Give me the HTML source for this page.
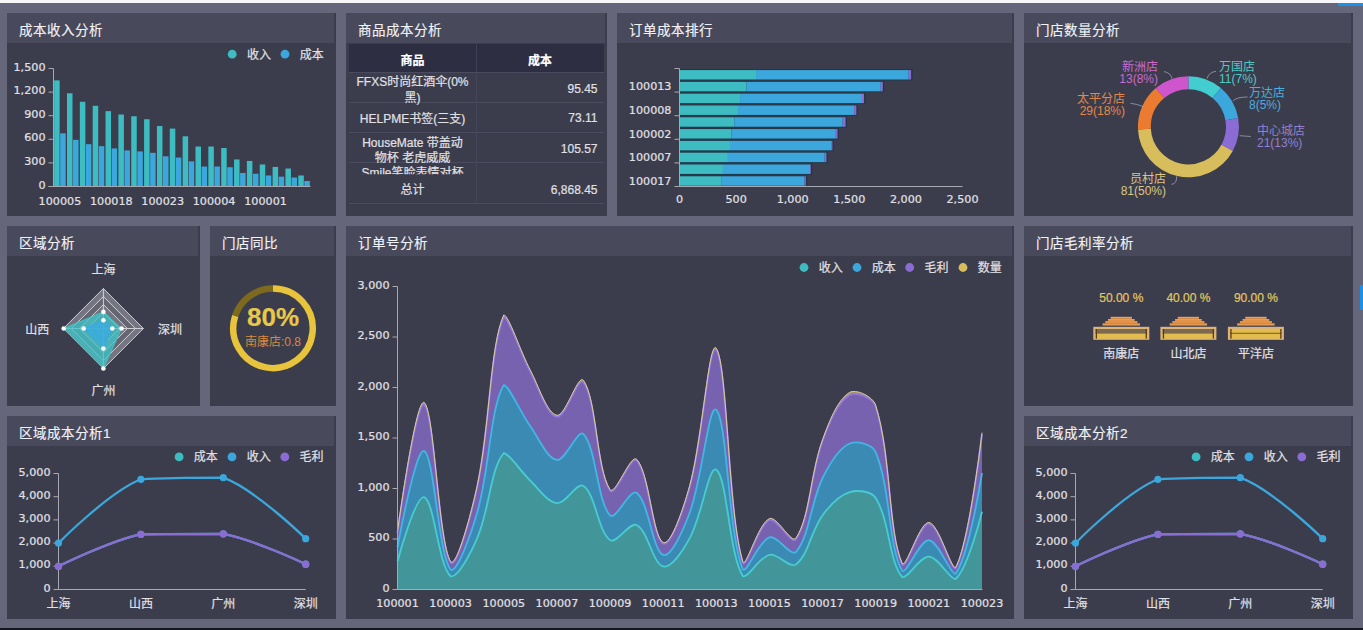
<!DOCTYPE html>
<html><head><meta charset="utf-8"><title>dashboard</title><style>
*{margin:0;padding:0;box-sizing:border-box}
html,body{width:1363px;height:630px;overflow:hidden;background:#65667a;font-family:'Liberation Sans','Noto Sans CJK SC',sans-serif}
.top{position:absolute;left:0;top:0;width:1363px;height:2.5px;background:#f8f8fa}
.bot{position:absolute;left:0;top:628px;width:1363px;height:2px;background:#15151f}
.p{position:absolute;background:#3c3d4c}
.h{height:30px;margin-right:2px;background:#484a5c;color:#f2f2f6;font-size:13.5px;letter-spacing:0.5px;-webkit-text-stroke:0.15px #f2f2f6;line-height:36px;padding-left:12px;white-space:nowrap}
svg{position:absolute;left:0;top:0}
svg text{font-family:'Liberation Sans','Noto Sans CJK SC',sans-serif;stroke:currentColor;stroke-width:0.2px;paint-order:stroke}
</style></head><body>
<div class="top"></div><div class="bot"></div>
<div class="p" style="left:7px;top:13px;width:329px;height:203px"><div class="h">成本收入分析</div></div><div class="p" style="left:346px;top:13px;width:261px;height:203px"><div class="h">商品成本分析</div></div><div class="p" style="left:617px;top:13px;width:397px;height:203px"><div class="h">订单成本排行</div></div><div class="p" style="left:1024px;top:13px;width:329px;height:203px"><div class="h">门店数量分析</div></div><div class="p" style="left:7px;top:226px;width:193px;height:180px"><div class="h">区域分析</div></div><div class="p" style="left:210px;top:226px;width:126px;height:180px"><div class="h">门店同比</div></div><div class="p" style="left:346px;top:226px;width:668px;height:393px"><div class="h">订单号分析</div></div><div class="p" style="left:1024px;top:226px;width:329px;height:180px"><div class="h">门店毛利率分析</div></div><div class="p" style="left:7px;top:416px;width:329px;height:203px"><div class="h">区域成本分析1</div></div><div class="p" style="left:1024px;top:416px;width:329px;height:203px"><div class="h">区域成本分析2</div></div>
<svg width="1363" height="630" viewBox="0 0 1363 630">
<rect x="54.14" y="80.38" width="5.51" height="106.12" fill="#3dbcc2" />
<rect x="60.2" y="133.32" width="5.51" height="53.18" fill="#3ba7dc" />
<rect x="66.99" y="93.28" width="5.51" height="93.22" fill="#3dbcc2" />
<rect x="73.05" y="139.85" width="5.51" height="46.65" fill="#3ba7dc" />
<rect x="79.84" y="101.78" width="5.51" height="84.72" fill="#3dbcc2" />
<rect x="85.9" y="144.18" width="5.51" height="42.32" fill="#3ba7dc" />
<rect x="92.69" y="105.79" width="5.51" height="80.71" fill="#3dbcc2" />
<rect x="98.75" y="146.14" width="5.51" height="40.36" fill="#3ba7dc" />
<rect x="105.54" y="111.14" width="5.51" height="75.36" fill="#3dbcc2" />
<rect x="111.6" y="148.43" width="5.51" height="38.07" fill="#3ba7dc" />
<rect x="118.39" y="114.52" width="5.51" height="71.98" fill="#3dbcc2" />
<rect x="124.45" y="150.39" width="5.51" height="36.11" fill="#3ba7dc" />
<rect x="131.24" y="116.25" width="5.51" height="70.25" fill="#3dbcc2" />
<rect x="137.3" y="151.41" width="5.51" height="35.09" fill="#3ba7dc" />
<rect x="144.09" y="119.24" width="5.51" height="67.26" fill="#3dbcc2" />
<rect x="150.15" y="152.83" width="5.51" height="33.67" fill="#3ba7dc" />
<rect x="156.94" y="126.01" width="5.51" height="60.49" fill="#3dbcc2" />
<rect x="163" y="156.29" width="5.51" height="30.21" fill="#3ba7dc" />
<rect x="169.79" y="128.6" width="5.51" height="57.9" fill="#3dbcc2" />
<rect x="175.85" y="157.55" width="5.51" height="28.95" fill="#3ba7dc" />
<rect x="182.64" y="136.31" width="5.51" height="50.19" fill="#3dbcc2" />
<rect x="188.7" y="161.41" width="5.51" height="25.09" fill="#3ba7dc" />
<rect x="195.49" y="146.54" width="5.51" height="39.96" fill="#3dbcc2" />
<rect x="201.55" y="166.52" width="5.51" height="19.98" fill="#3ba7dc" />
<rect x="208.34" y="146.54" width="5.51" height="39.96" fill="#3dbcc2" />
<rect x="214.4" y="166.52" width="5.51" height="19.98" fill="#3ba7dc" />
<rect x="221.19" y="148.03" width="5.51" height="38.47" fill="#3dbcc2" />
<rect x="227.25" y="167.23" width="5.51" height="19.27" fill="#3ba7dc" />
<rect x="234.04" y="159.44" width="5.51" height="27.06" fill="#3dbcc2" />
<rect x="240.1" y="172.97" width="5.51" height="13.53" fill="#3ba7dc" />
<rect x="246.89" y="160.93" width="5.51" height="25.57" fill="#3dbcc2" />
<rect x="252.95" y="173.76" width="5.51" height="12.74" fill="#3ba7dc" />
<rect x="259.74" y="164.47" width="5.51" height="22.03" fill="#3dbcc2" />
<rect x="265.8" y="175.49" width="5.51" height="11.01" fill="#3ba7dc" />
<rect x="272.59" y="166.91" width="5.51" height="19.59" fill="#3dbcc2" />
<rect x="278.65" y="176.67" width="5.51" height="9.83" fill="#3ba7dc" />
<rect x="285.44" y="168.56" width="5.51" height="17.94" fill="#3dbcc2" />
<rect x="291.5" y="177.53" width="5.51" height="8.97" fill="#3ba7dc" />
<rect x="298.29" y="175.49" width="5.51" height="11.01" fill="#3dbcc2" />
<rect x="304.35" y="180.99" width="5.51" height="5.51" fill="#3ba7dc" />
<line x1="53.5" y1="68.5" x2="53.5" y2="186.5" stroke="#a8a8b2" stroke-width="1"/>
<line x1="48.5" y1="186.5" x2="53.5" y2="186.5" stroke="#a8a8b2" stroke-width="1"/>
<text x="45.5" y="185" font-size="11.2" fill="#e0e0e6" color="#e0e0e6" text-anchor="end" dominant-baseline="central" font-weight="normal" style="font-family:'DejaVu Sans','Liberation Sans',sans-serif" >0</text>
<line x1="48.5" y1="162.9" x2="53.5" y2="162.9" stroke="#a8a8b2" stroke-width="1"/>
<text x="45.5" y="161.4" font-size="11.2" fill="#e0e0e6" color="#e0e0e6" text-anchor="end" dominant-baseline="central" font-weight="normal" style="font-family:'DejaVu Sans','Liberation Sans',sans-serif" >300</text>
<line x1="48.5" y1="139.3" x2="53.5" y2="139.3" stroke="#a8a8b2" stroke-width="1"/>
<text x="45.5" y="137.8" font-size="11.2" fill="#e0e0e6" color="#e0e0e6" text-anchor="end" dominant-baseline="central" font-weight="normal" style="font-family:'DejaVu Sans','Liberation Sans',sans-serif" >600</text>
<line x1="48.5" y1="115.7" x2="53.5" y2="115.7" stroke="#a8a8b2" stroke-width="1"/>
<text x="45.5" y="114.2" font-size="11.2" fill="#e0e0e6" color="#e0e0e6" text-anchor="end" dominant-baseline="central" font-weight="normal" style="font-family:'DejaVu Sans','Liberation Sans',sans-serif" >900</text>
<line x1="48.5" y1="92.1" x2="53.5" y2="92.1" stroke="#a8a8b2" stroke-width="1"/>
<text x="45.5" y="90.6" font-size="11.2" fill="#e0e0e6" color="#e0e0e6" text-anchor="end" dominant-baseline="central" font-weight="normal" style="font-family:'DejaVu Sans','Liberation Sans',sans-serif" >1,200</text>
<line x1="48.5" y1="68.5" x2="53.5" y2="68.5" stroke="#a8a8b2" stroke-width="1"/>
<text x="45.5" y="67" font-size="11.2" fill="#e0e0e6" color="#e0e0e6" text-anchor="end" dominant-baseline="central" font-weight="normal" style="font-family:'DejaVu Sans','Liberation Sans',sans-serif" >1,500</text>
<line x1="48.5" y1="186.5" x2="310.5" y2="186.5" stroke="#a8a8b2" stroke-width="1"/>
<text x="59.92" y="201.2" font-size="11.2" fill="#e0e0e6" color="#e0e0e6" text-anchor="middle" dominant-baseline="central" font-weight="normal" style="font-family:'DejaVu Sans','Liberation Sans',sans-serif" >100005</text>
<text x="111.32" y="201.2" font-size="11.2" fill="#e0e0e6" color="#e0e0e6" text-anchor="middle" dominant-baseline="central" font-weight="normal" style="font-family:'DejaVu Sans','Liberation Sans',sans-serif" >100018</text>
<text x="162.72" y="201.2" font-size="11.2" fill="#e0e0e6" color="#e0e0e6" text-anchor="middle" dominant-baseline="central" font-weight="normal" style="font-family:'DejaVu Sans','Liberation Sans',sans-serif" >100023</text>
<text x="214.12" y="201.2" font-size="11.2" fill="#e0e0e6" color="#e0e0e6" text-anchor="middle" dominant-baseline="central" font-weight="normal" style="font-family:'DejaVu Sans','Liberation Sans',sans-serif" >100004</text>
<text x="265.52" y="201.2" font-size="11.2" fill="#e0e0e6" color="#e0e0e6" text-anchor="middle" dominant-baseline="central" font-weight="normal" style="font-family:'DejaVu Sans','Liberation Sans',sans-serif" >100001</text>
<circle cx="232.2" cy="54.2" r="4.4" fill="#3dbcc2" />
<text x="246.9" y="54.7" font-size="12" fill="#e0e0e6" color="#e0e0e6" text-anchor="start" dominant-baseline="central" font-weight="normal" >收入</text>
<circle cx="285" cy="54.2" r="4.4" fill="#3ba7dc" />
<text x="299.7" y="54.7" font-size="12" fill="#e0e0e6" color="#e0e0e6" text-anchor="start" dominant-baseline="central" font-weight="normal" >成本</text>
<rect x="349" y="44" width="255" height="28" fill="#2d2e42" />
<line x1="476.5" y1="44" x2="476.5" y2="72" stroke="#3e3f55" stroke-width="1"/>
<line x1="349" y1="72.5" x2="604" y2="72.5" stroke="#4a4b5e" stroke-width="1"/>
<line x1="349" y1="102.5" x2="604" y2="102.5" stroke="#4a4b5e" stroke-width="1"/>
<line x1="349" y1="132.5" x2="604" y2="132.5" stroke="#4a4b5e" stroke-width="1"/>
<line x1="349" y1="162.5" x2="604" y2="162.5" stroke="#4a4b5e" stroke-width="1"/>
<line x1="349" y1="203.5" x2="604" y2="203.5" stroke="#4a4b5e" stroke-width="1"/>
<line x1="476.5" y1="72.5" x2="476.5" y2="203" stroke="#45465a" stroke-width="1"/>
<text x="412.5" y="60.5" font-size="12" fill="#ffffff" color="#ffffff" text-anchor="middle" dominant-baseline="central" font-weight="bold" >商品</text>
<text x="540" y="60.5" font-size="12" fill="#ffffff" color="#ffffff" text-anchor="middle" dominant-baseline="central" font-weight="bold" >成本</text>
<text x="412.5" y="82" font-size="12" fill="#e0e0e6" color="#e0e0e6" text-anchor="middle" dominant-baseline="central" font-weight="normal" >FFXS时尚红酒伞(0%</text>
<text x="412.5" y="97.9" font-size="12" fill="#e0e0e6" color="#e0e0e6" text-anchor="middle" dominant-baseline="central" font-weight="normal" >黑)</text>
<text x="597.5" y="88.7" font-size="12" fill="#e0e0e6" color="#e0e0e6" text-anchor="end" dominant-baseline="central" font-weight="normal" >95.45</text>
<text x="412.5" y="118.6" font-size="12" fill="#e0e0e6" color="#e0e0e6" text-anchor="middle" dominant-baseline="central" font-weight="normal" >HELPME书签(三支)</text>
<text x="597.5" y="118.4" font-size="12" fill="#e0e0e6" color="#e0e0e6" text-anchor="end" dominant-baseline="central" font-weight="normal" >73.11</text>
<text x="412.5" y="142.5" font-size="12" fill="#e0e0e6" color="#e0e0e6" text-anchor="middle" dominant-baseline="central" font-weight="normal" >HouseMate 带盖动</text>
<text x="412.5" y="157.6" font-size="12" fill="#e0e0e6" color="#e0e0e6" text-anchor="middle" dominant-baseline="central" font-weight="normal" >物杯 老虎威威</text>
<text x="597.5" y="148.9" font-size="12" fill="#e0e0e6" color="#e0e0e6" text-anchor="end" dominant-baseline="central" font-weight="normal" >105.57</text>
<clipPath id="rc"><rect x="349" y="163" width="255" height="11.3"/></clipPath>
<text x="412.5" y="173.3" font-size="12" fill="#e0e0e6" color="#e0e0e6" text-anchor="middle" dominant-baseline="central" font-weight="normal" clip-path="url(#rc)">Smile笑脸表情对杯</text>
<text x="412.5" y="190.2" font-size="12" fill="#e0e0e6" color="#e0e0e6" text-anchor="middle" dominant-baseline="central" font-weight="normal" >总计</text>
<text x="597.5" y="189.7" font-size="12" fill="#e0e0e6" color="#e0e0e6" text-anchor="end" dominant-baseline="central" font-weight="normal" >6,868.45</text>
<rect x="679" y="175.28" width="128.33" height="11.44" fill="#22384a" />
<rect x="679.5" y="176.28" width="41.66" height="9.44" fill="#3dbcc2" />
<rect x="721.16" y="176.28" width="83.32" height="9.44" fill="#3ba7dc" />
<rect x="804.47" y="176.28" width="1.36" height="9.44" fill="#8a6cd4" />
<rect x="679" y="163.48" width="133.31" height="11.44" fill="#22384a" />
<rect x="679.5" y="164.48" width="43.47" height="9.44" fill="#3dbcc2" />
<rect x="722.97" y="164.48" width="87.05" height="9.44" fill="#3ba7dc" />
<rect x="810.02" y="164.48" width="0.79" height="9.44" fill="#8a6cd4" />
<rect x="679" y="151.68" width="148.93" height="11.44" fill="#22384a" />
<rect x="679.5" y="152.68" width="48.45" height="9.44" fill="#3dbcc2" />
<rect x="727.95" y="152.68" width="96.79" height="9.44" fill="#3ba7dc" />
<rect x="824.74" y="152.68" width="1.7" height="9.44" fill="#8a6cd4" />
<rect x="679" y="139.88" width="154.93" height="11.44" fill="#22384a" />
<rect x="679.5" y="140.88" width="50.49" height="9.44" fill="#3dbcc2" />
<rect x="729.99" y="140.88" width="101.09" height="9.44" fill="#3ba7dc" />
<rect x="831.07" y="140.88" width="1.36" height="9.44" fill="#8a6cd4" />
<rect x="679" y="128.08" width="160.03" height="11.44" fill="#22384a" />
<rect x="679.5" y="129.08" width="51.96" height="9.44" fill="#3dbcc2" />
<rect x="731.46" y="129.08" width="103.58" height="9.44" fill="#3ba7dc" />
<rect x="835.04" y="129.08" width="2.49" height="9.44" fill="#8a6cd4" />
<rect x="679" y="116.28" width="168.06" height="11.44" fill="#22384a" />
<rect x="679.5" y="117.28" width="54.79" height="9.44" fill="#3dbcc2" />
<rect x="734.29" y="117.28" width="108.45" height="9.44" fill="#3ba7dc" />
<rect x="842.73" y="117.28" width="2.83" height="9.44" fill="#8a6cd4" />
<rect x="679" y="104.48" width="178.82" height="11.44" fill="#22384a" />
<rect x="679.5" y="105.48" width="58.52" height="9.44" fill="#3dbcc2" />
<rect x="738.02" y="105.48" width="116.14" height="9.44" fill="#3ba7dc" />
<rect x="854.17" y="105.48" width="2.15" height="9.44" fill="#8a6cd4" />
<rect x="679" y="92.68" width="186.52" height="11.44" fill="#22384a" />
<rect x="679.5" y="93.68" width="60.56" height="9.44" fill="#3dbcc2" />
<rect x="740.06" y="93.68" width="121.92" height="9.44" fill="#3ba7dc" />
<rect x="861.98" y="93.68" width="2.04" height="9.44" fill="#8a6cd4" />
<rect x="679" y="80.88" width="205.31" height="11.44" fill="#22384a" />
<rect x="679.5" y="81.88" width="67.13" height="9.44" fill="#3dbcc2" />
<rect x="746.63" y="81.88" width="134.14" height="9.44" fill="#3ba7dc" />
<rect x="880.77" y="81.88" width="2.04" height="9.44" fill="#8a6cd4" />
<rect x="679" y="69.08" width="233.61" height="11.44" fill="#22384a" />
<rect x="679.5" y="70.08" width="76.52" height="9.44" fill="#3dbcc2" />
<rect x="756.02" y="70.08" width="152.71" height="9.44" fill="#3ba7dc" />
<rect x="908.73" y="70.08" width="2.38" height="9.44" fill="#8a6cd4" />
<line x1="679.5" y1="68.5" x2="679.5" y2="186.5" stroke="#a8a8b2" stroke-width="1"/>
<line x1="674.5" y1="68.5" x2="679.5" y2="68.5" stroke="#a8a8b2" stroke-width="1"/>
<line x1="674.5" y1="92.1" x2="679.5" y2="92.1" stroke="#a8a8b2" stroke-width="1"/>
<line x1="674.5" y1="115.7" x2="679.5" y2="115.7" stroke="#a8a8b2" stroke-width="1"/>
<line x1="674.5" y1="139.3" x2="679.5" y2="139.3" stroke="#a8a8b2" stroke-width="1"/>
<line x1="674.5" y1="162.9" x2="679.5" y2="162.9" stroke="#a8a8b2" stroke-width="1"/>
<line x1="674.5" y1="186.5" x2="679.5" y2="186.5" stroke="#a8a8b2" stroke-width="1"/>
<text x="671.5" y="86.9" font-size="11.2" fill="#e0e0e6" color="#e0e0e6" text-anchor="end" dominant-baseline="central" font-weight="normal" style="font-family:'DejaVu Sans','Liberation Sans',sans-serif" >100013</text>
<text x="671.5" y="110.5" font-size="11.2" fill="#e0e0e6" color="#e0e0e6" text-anchor="end" dominant-baseline="central" font-weight="normal" style="font-family:'DejaVu Sans','Liberation Sans',sans-serif" >100008</text>
<text x="671.5" y="134.1" font-size="11.2" fill="#e0e0e6" color="#e0e0e6" text-anchor="end" dominant-baseline="central" font-weight="normal" style="font-family:'DejaVu Sans','Liberation Sans',sans-serif" >100002</text>
<text x="671.5" y="157.7" font-size="11.2" fill="#e0e0e6" color="#e0e0e6" text-anchor="end" dominant-baseline="central" font-weight="normal" style="font-family:'DejaVu Sans','Liberation Sans',sans-serif" >100007</text>
<text x="671.5" y="181.3" font-size="11.2" fill="#e0e0e6" color="#e0e0e6" text-anchor="end" dominant-baseline="central" font-weight="normal" style="font-family:'DejaVu Sans','Liberation Sans',sans-serif" >100017</text>
<line x1="679.5" y1="186.5" x2="962.5" y2="186.5" stroke="#a8a8b2" stroke-width="1"/>
<text x="679.5" y="199.1" font-size="11.2" fill="#e0e0e6" color="#e0e0e6" text-anchor="middle" dominant-baseline="central" font-weight="normal" style="font-family:'DejaVu Sans','Liberation Sans',sans-serif" >0</text>
<text x="736.1" y="199.1" font-size="11.2" fill="#e0e0e6" color="#e0e0e6" text-anchor="middle" dominant-baseline="central" font-weight="normal" style="font-family:'DejaVu Sans','Liberation Sans',sans-serif" >500</text>
<text x="792.7" y="199.1" font-size="11.2" fill="#e0e0e6" color="#e0e0e6" text-anchor="middle" dominant-baseline="central" font-weight="normal" style="font-family:'DejaVu Sans','Liberation Sans',sans-serif" >1,000</text>
<text x="849.3" y="199.1" font-size="11.2" fill="#e0e0e6" color="#e0e0e6" text-anchor="middle" dominant-baseline="central" font-weight="normal" style="font-family:'DejaVu Sans','Liberation Sans',sans-serif" >1,500</text>
<text x="905.9" y="199.1" font-size="11.2" fill="#e0e0e6" color="#e0e0e6" text-anchor="middle" dominant-baseline="central" font-weight="normal" style="font-family:'DejaVu Sans','Liberation Sans',sans-serif" >2,000</text>
<text x="962.5" y="199.1" font-size="11.2" fill="#e0e0e6" color="#e0e0e6" text-anchor="middle" dominant-baseline="central" font-weight="normal" style="font-family:'DejaVu Sans','Liberation Sans',sans-serif" >2,500</text>
<path d="M1188.4,76.3 A50.5,50.5 0 0 1 1220.86,88.11 L1212.57,98 A37.6,37.6 0 0 0 1188.4,89.2 Z" fill="#42cdd0"/>
<path d="M1220.86,88.11 A50.5,50.5 0 0 1 1238.13,118.03 L1225.43,120.27 A37.6,37.6 0 0 0 1212.57,98 Z" fill="#3ba7dc"/>
<path d="M1238.13,118.03 A50.5,50.5 0 0 1 1232.78,150.9 L1221.44,144.74 A37.6,37.6 0 0 0 1225.43,120.27 Z" fill="#8a6cd4"/>
<path d="M1232.78,150.9 A50.5,50.5 0 0 1 1137.97,129.53 L1150.86,128.83 A37.6,37.6 0 0 0 1221.44,144.74 Z" fill="#d8bd5c"/>
<path d="M1137.97,129.53 A50.5,50.5 0 0 1 1155.94,88.11 L1164.23,98 A37.6,37.6 0 0 0 1150.86,128.83 Z" fill="#ec7b32"/>
<path d="M1155.94,88.11 A50.5,50.5 0 0 1 1188.4,76.3 L1188.4,89.2 A37.6,37.6 0 0 0 1164.23,98 Z" fill="#cf55cc"/>
<path d="M1172,78.6 Q1171,73 1164,71.6" fill="none" stroke="rgba(200,200,215,0.55)" stroke-width="1"/>
<path d="M1143,106.5 Q1137,104 1130.5,103.3" fill="none" stroke="rgba(200,200,215,0.55)" stroke-width="1"/>
<path d="M1207,78.6 Q1209,72 1216,71.4" fill="none" stroke="rgba(200,200,215,0.55)" stroke-width="1"/>
<path d="M1233,100.8 Q1237,97 1247.6,97" fill="none" stroke="rgba(200,200,215,0.55)" stroke-width="1"/>
<path d="M1239.7,135.7 L1250.8,136.5" fill="none" stroke="rgba(200,200,215,0.55)" stroke-width="1"/>
<path d="M1176.7,176.2 Q1177,184 1171.4,184.3" fill="none" stroke="rgba(200,200,215,0.55)" stroke-width="1"/>
<text x="1158" y="67" font-size="12" fill="#cc6acc" color="#cc6acc" text-anchor="end" dominant-baseline="central" font-weight="normal" style="stroke:none" >新洲店</text>
<text x="1158" y="78.8" font-size="12" fill="#cc6acc" color="#cc6acc" text-anchor="end" dominant-baseline="central" font-weight="normal" style="stroke:none" >13(8%)</text>
<text x="1125" y="98.6" font-size="12" fill="#e2884a" color="#e2884a" text-anchor="end" dominant-baseline="central" font-weight="normal" style="stroke:none" >太平分店</text>
<text x="1125" y="111" font-size="12" fill="#e2884a" color="#e2884a" text-anchor="end" dominant-baseline="central" font-weight="normal" style="stroke:none" >29(18%)</text>
<text x="1219" y="66.7" font-size="12" fill="#50cac6" color="#50cac6" text-anchor="start" dominant-baseline="central" font-weight="normal" style="stroke:none" >万国店</text>
<text x="1219" y="79" font-size="12" fill="#50cac6" color="#50cac6" text-anchor="start" dominant-baseline="central" font-weight="normal" style="stroke:none" >11(7%)</text>
<text x="1249" y="92.8" font-size="12" fill="#4aaede" color="#4aaede" text-anchor="start" dominant-baseline="central" font-weight="normal" style="stroke:none" >万达店</text>
<text x="1249" y="105" font-size="12" fill="#4aaede" color="#4aaede" text-anchor="start" dominant-baseline="central" font-weight="normal" style="stroke:none" >8(5%)</text>
<text x="1257" y="131" font-size="12" fill="#9280d0" color="#9280d0" text-anchor="start" dominant-baseline="central" font-weight="normal" style="stroke:none" >中心城店</text>
<text x="1257" y="142.5" font-size="12" fill="#9280d0" color="#9280d0" text-anchor="start" dominant-baseline="central" font-weight="normal" style="stroke:none" >21(13%)</text>
<text x="1166" y="178.5" font-size="12" fill="#dcc680" color="#dcc680" text-anchor="end" dominant-baseline="central" font-weight="normal" style="stroke:none" >员村店</text>
<text x="1166" y="190.8" font-size="12" fill="#dcc680" color="#dcc680" text-anchor="end" dominant-baseline="central" font-weight="normal" style="stroke:none" >81(50%)</text>
<polygon points="103.4,288.5 63.4,328.5 103.4,368.5 143.4,328.5" fill="#3c3d4c"/>
<polygon points="103.4,288.5 63.4,328.5 103.4,368.5 143.4,328.5" fill="rgba(250,250,250,0.3)"/>
<polygon points="103.4,296.5 71.4,328.5 103.4,360.5 135.4,328.5" fill="#3c3d4c"/>
<polygon points="103.4,296.5 71.4,328.5 103.4,360.5 135.4,328.5" fill="rgba(200,200,200,0.3)"/>
<polygon points="103.4,304.5 79.4,328.5 103.4,352.5 127.4,328.5" fill="#3c3d4c"/>
<polygon points="103.4,304.5 79.4,328.5 103.4,352.5 127.4,328.5" fill="rgba(250,250,250,0.3)"/>
<polygon points="103.4,312.5 87.4,328.5 103.4,344.5 119.4,328.5" fill="#3c3d4c"/>
<polygon points="103.4,312.5 87.4,328.5 103.4,344.5 119.4,328.5" fill="rgba(200,200,200,0.3)"/>
<polygon points="103.4,320.5 95.4,328.5 103.4,336.5 111.4,328.5" fill="#3c3d4c"/>
<polygon points="103.4,320.5 95.4,328.5 103.4,336.5 111.4,328.5" fill="rgba(250,250,250,0.3)"/>
<polygon points="103.4,320.5 95.4,328.5 103.4,336.5 111.4,328.5" fill="none" stroke="#cfcfd6" stroke-width="1"/>
<polygon points="103.4,312.5 87.4,328.5 103.4,344.5 119.4,328.5" fill="none" stroke="#cfcfd6" stroke-width="1"/>
<polygon points="103.4,304.5 79.4,328.5 103.4,352.5 127.4,328.5" fill="none" stroke="#cfcfd6" stroke-width="1"/>
<polygon points="103.4,296.5 71.4,328.5 103.4,360.5 135.4,328.5" fill="none" stroke="#cfcfd6" stroke-width="1"/>
<polygon points="103.4,288.5 63.4,328.5 103.4,368.5 143.4,328.5" fill="none" stroke="#cfcfd6" stroke-width="1"/>
<line x1="103.4" y1="328.5" x2="103.4" y2="288.5" stroke="#cfcfd6" stroke-width="1"/>
<line x1="103.4" y1="328.5" x2="63.4" y2="328.5" stroke="#cfcfd6" stroke-width="1"/>
<line x1="103.4" y1="328.5" x2="103.4" y2="368.5" stroke="#cfcfd6" stroke-width="1"/>
<line x1="103.4" y1="328.5" x2="143.4" y2="328.5" stroke="#cfcfd6" stroke-width="1"/>
<polygon points="103.4,311.9 63.7,328.5 103.4,368.5 121.5,328.5" fill="#3fc6c8" fill-opacity="0.75" stroke="#3fc6c8" stroke-width="1"/>
<polygon points="103.4,320.2 83.7,328.5 103.4,348.5 112.3,328.5" fill="#3aabe0" fill-opacity="0.8" stroke="#3aabe0" stroke-width="1"/>
<circle cx="103.4" cy="311.9" r="2.3" fill="#ffffff" />
<circle cx="63.7" cy="328.5" r="2.3" fill="#ffffff" />
<circle cx="103.4" cy="368.5" r="2.3" fill="#ffffff" />
<circle cx="121.5" cy="328.5" r="2.3" fill="#ffffff" />
<circle cx="103.4" cy="320.2" r="2.3" fill="#ffffff" />
<circle cx="83.7" cy="328.5" r="2.3" fill="#ffffff" />
<circle cx="103.4" cy="348.5" r="2.3" fill="#ffffff" />
<circle cx="112.3" cy="328.5" r="2.3" fill="#ffffff" />
<text x="103.4" y="269.5" font-size="12" fill="#e0e0e6" color="#e0e0e6" text-anchor="middle" dominant-baseline="central" font-weight="normal" >上海</text>
<text x="170" y="330.4" font-size="12" fill="#e0e0e6" color="#e0e0e6" text-anchor="middle" dominant-baseline="central" font-weight="normal" >深圳</text>
<text x="103.4" y="390.7" font-size="12" fill="#e0e0e6" color="#e0e0e6" text-anchor="middle" dominant-baseline="central" font-weight="normal" >广州</text>
<text x="37.3" y="330.4" font-size="12" fill="#e0e0e6" color="#e0e0e6" text-anchor="middle" dominant-baseline="central" font-weight="normal" >山西</text>
<path d="M235.2,316.02 A39.75,39.75 0 0 1 273,288.55" fill="none" stroke="#7d6a1e" stroke-width="6.5"/>
<path d="M273,288.55 A39.75,39.75 0 1 1 235.2,316.02" fill="none" stroke="#e8c33c" stroke-width="6.5"/>
<text x="273" y="316.9" font-size="26" fill="#e8c84a" color="#e8c84a" text-anchor="middle" dominant-baseline="central" font-weight="bold" >80%</text>
<text x="273" y="341.5" font-size="12" fill="#d8893e" color="#d8893e" text-anchor="middle" dominant-baseline="central" font-weight="normal" style="stroke:none" >南康店:0.8</text>
<path d="M397.5,561.22 C397.5,561.22 415.62,494.71 424.07,497.08 C434.22,499.94 438.68,566.92 450.64,576.17 C457.28,579.1 470.84,552.92 477.2,538.19 C489.43,509.9 490.76,467.32 503.77,453.25 C509.36,453.25 520.6,471.58 530.34,480.72 C539.2,489.04 547.18,502.2 556.91,503.14 C565.78,504 577.08,481.42 583.48,485.87 C595.67,494.36 597.69,531 610.05,540.11 C616.29,544.72 629.49,521.53 636.61,525.06 C648.09,530.76 652.78,563.9 663.18,566.47 C671.38,568.5 683.32,549.9 689.75,538.19 C701.91,516.07 708.86,464.49 716.32,469.81 C727.46,477.78 728.7,553.5 742.89,576.17 C747.3,579.1 759.28,557.02 769.45,554.76 C777.88,552.88 789.78,569 796.02,564.35 C808.38,555.15 811.16,530.66 822.59,515.16 C829.75,505.46 838.69,495.7 849.16,492.34 C857.29,489.73 871.15,490.8 875.73,498.1 C889.75,520.46 889.03,562.45 902.3,577.08 C907.63,579.1 919.74,556.33 928.86,556.67 C938.34,557.04 949.39,579.1 955.43,579.1 C967.99,568.5 982,511.83 982,511.83 L982,589.5 C982,589.5 964.73,589.5 955.43,589.5 C946.13,589.5 938.16,589.5 928.86,589.5 C919.56,589.5 911.59,589.5 902.3,589.5 C893,589.5 885.03,589.5 875.73,589.5 C866.43,589.5 858.46,589.5 849.16,589.5 C839.86,589.5 831.89,589.5 822.59,589.5 C813.29,589.5 805.32,589.5 796.02,589.5 C786.72,589.5 778.75,589.5 769.45,589.5 C760.16,589.5 752.19,589.5 742.89,589.5 C733.59,589.5 725.62,589.5 716.32,589.5 C707.02,589.5 699.05,589.5 689.75,589.5 C680.45,589.5 672.48,589.5 663.18,589.5 C653.88,589.5 645.91,589.5 636.61,589.5 C627.31,589.5 619.34,589.5 610.05,589.5 C600.75,589.5 592.78,589.5 583.48,589.5 C574.18,589.5 566.21,589.5 556.91,589.5 C547.61,589.5 539.64,589.5 530.34,589.5 C521.04,589.5 513.07,589.5 503.77,589.5 C494.47,589.5 486.5,589.5 477.2,589.5 C467.91,589.5 459.94,589.5 450.64,589.5 C441.34,589.5 433.37,589.5 424.07,589.5 C414.77,589.5 397.5,589.5 397.5,589.5 Z" fill="#42969a"/>
<path d="M397.5,547.08 C397.5,547.08 415.68,447.34 424.07,450.88 C434.28,455.19 438.38,555.28 450.64,569.5 C456.98,573.9 471.15,533.55 477.2,512.54 C489.75,469.02 490.26,407.04 503.77,385.13 C508.86,385.13 520.42,412.36 530.34,426.33 C539.02,438.55 546.94,458.52 556.91,459.97 C565.54,461.22 577.85,428.19 583.48,434.06 C596.45,447.6 596.83,500.8 610.05,515.42 C615.43,521.37 630.28,488.13 636.61,492.84 C648.88,501.97 652.5,551 663.18,554.96 C671.1,557.89 683.78,528.82 689.75,512.54 C702.38,478.07 708.96,402.08 716.32,409.97 C727.55,422.02 728.1,534.05 742.89,569.5 C746.7,573.9 758.67,540.98 769.45,537.38 C777.27,534.78 790.85,557.56 796.02,551.78 C809.45,536.77 810.61,502.35 822.59,478 C829.21,464.54 837.85,449.21 849.16,443.76 C856.45,440.24 872.25,444.07 875.73,452.39 C890.85,488.56 888.35,547.81 902.3,570.87 C906.95,573.9 919.83,539.75 928.86,540.26 C938.42,540.81 950.02,573.9 955.43,573.9 C968.61,557.21 982,473 982,473 L982,511.83 C982,511.83 967.99,568.5 955.43,579.1 C949.39,579.1 938.34,557.04 928.86,556.67 C919.74,556.33 907.63,579.1 902.3,577.08 C889.03,562.45 889.75,520.46 875.73,498.1 C871.15,490.8 857.29,489.73 849.16,492.34 C838.69,495.7 829.75,505.46 822.59,515.16 C811.16,530.66 808.38,555.15 796.02,564.35 C789.78,569 777.88,552.88 769.45,554.76 C759.28,557.02 747.3,579.1 742.89,576.17 C728.7,553.5 727.46,477.78 716.32,469.81 C708.86,464.49 701.91,516.07 689.75,538.19 C683.32,549.9 671.38,568.5 663.18,566.47 C652.78,563.9 648.09,530.76 636.61,525.06 C629.49,521.53 616.29,544.72 610.05,540.11 C597.69,531 595.67,494.36 583.48,485.87 C577.08,481.42 565.78,504 556.91,503.14 C547.18,502.2 539.2,489.04 530.34,480.72 C520.6,471.58 509.36,453.25 503.77,453.25 C490.76,467.32 489.43,509.9 477.2,538.19 C470.84,552.92 457.28,579.1 450.64,576.17 C438.68,566.92 434.22,499.94 424.07,497.08 C415.62,494.71 397.5,561.22 397.5,561.22 Z" fill="#3b8ab3"/>
<path d="M397.5,532.94 C397.5,532.94 415.71,399.97 424.07,404.67 C434.3,410.43 438.25,543.67 450.64,562.84 C456.85,568.69 471.28,514.31 477.2,486.88 C489.87,428.27 490.05,346.69 503.77,317 C508.64,317 520.31,353.11 530.34,371.95 C538.91,388.03 546.78,414.83 556.91,416.79 C565.38,418.43 578.26,374.99 583.48,382.25 C596.85,400.86 596.37,470.54 610.05,490.72 C614.96,497.98 630.74,454.8 636.61,460.62 C649.34,473.25 652.36,538.1 663.18,543.44 C670.96,547.29 683.99,507.84 689.75,486.88 C702.59,440.18 708.99,339.66 716.32,350.13 C727.59,366.24 727.83,514.7 742.89,562.84 C746.43,568.69 758.19,525.02 769.45,520.01 C776.78,516.75 791.5,545.95 796.02,539.2 C810.09,518.23 810.34,474.03 822.59,440.83 C828.94,423.62 837.15,402.89 849.16,395.18 C855.74,390.95 872.88,397.61 875.73,406.69 C891.48,456.93 888.03,533.21 902.3,564.65 C906.63,568.69 919.88,523.17 928.86,523.85 C938.48,524.58 950.31,568.69 955.43,568.69 C968.91,545.95 982,434.16 982,434.16 L982,473 C982,473 968.61,557.21 955.43,573.9 C950.02,573.9 938.42,540.81 928.86,540.26 C919.83,539.75 906.95,573.9 902.3,570.87 C888.35,547.81 890.85,488.56 875.73,452.39 C872.25,444.07 856.45,440.24 849.16,443.76 C837.85,449.21 829.21,464.54 822.59,478 C810.61,502.35 809.45,536.77 796.02,551.78 C790.85,557.56 777.27,534.78 769.45,537.38 C758.67,540.98 746.7,573.9 742.89,569.5 C728.1,534.05 727.55,422.02 716.32,409.97 C708.96,402.08 702.38,478.07 689.75,512.54 C683.78,528.82 671.1,557.89 663.18,554.96 C652.5,551 648.88,501.97 636.61,492.84 C630.28,488.13 615.43,521.37 610.05,515.42 C596.83,500.8 596.45,447.6 583.48,434.06 C577.85,428.19 565.54,461.22 556.91,459.97 C546.94,458.52 539.02,438.55 530.34,426.33 C520.42,412.36 508.86,385.13 503.77,385.13 C490.26,407.04 489.75,469.02 477.2,512.54 C471.15,533.55 456.98,573.9 450.64,569.5 C438.38,555.28 434.28,455.19 424.07,450.88 C415.68,447.34 397.5,547.08 397.5,547.08 Z" fill="#7662ae"/>
<path d="M397.5,531.42 C397.5,531.42 415.71,397.7 424.07,402.45 C434.31,408.27 438.22,542.12 450.64,561.62 C456.81,567.68 471.31,513.24 477.2,485.87 C489.91,426.88 490.04,344.79 503.77,314.88 C508.64,314.88 520.31,351.18 530.34,370.13 C538.91,386.32 546.79,413.33 556.91,415.27 C565.39,416.9 578.25,373.03 583.48,380.33 C596.85,399.01 596.36,469.19 610.05,489.51 C614.95,496.8 630.74,453.36 636.61,459.21 C649.34,471.89 652.37,537.09 663.18,542.43 C670.96,546.28 683.98,506.55 689.75,485.47 C702.58,438.61 709,337.79 716.32,348.31 C727.59,364.52 727.84,513.6 742.89,561.83 C746.44,567.68 758.17,523.66 769.45,518.6 C776.77,515.32 791.48,544.74 796.02,537.99 C810.08,517.09 810.43,472.87 822.59,439.62 C829.03,422 837.14,400.38 849.16,392.65 C855.73,388.43 872.84,396.18 875.73,405.48 C891.44,456.03 888.05,532.29 902.3,563.64 C906.65,567.68 919.88,521.75 928.86,522.44 C938.48,523.17 950.3,567.68 955.43,567.68 C968.9,544.93 982,432.65 982,432.65 L982,434.16 C982,434.16 968.91,545.95 955.43,568.69 C950.31,568.69 938.48,524.58 928.86,523.85 C919.88,523.17 906.63,568.69 902.3,564.65 C888.03,533.21 891.48,456.93 875.73,406.69 C872.88,397.61 855.74,390.95 849.16,395.18 C837.15,402.89 828.94,423.62 822.59,440.83 C810.34,474.03 810.09,518.23 796.02,539.2 C791.5,545.95 776.78,516.75 769.45,520.01 C758.19,525.02 746.43,568.69 742.89,562.84 C727.83,514.7 727.59,366.24 716.32,350.13 C708.99,339.66 702.59,440.18 689.75,486.88 C683.99,507.84 670.96,547.29 663.18,543.44 C652.36,538.1 649.34,473.25 636.61,460.62 C630.74,454.8 614.96,497.98 610.05,490.72 C596.37,470.54 596.85,400.86 583.48,382.25 C578.26,374.99 565.38,418.43 556.91,416.79 C546.78,414.83 538.91,388.03 530.34,371.95 C520.31,353.11 508.64,317 503.77,317 C490.05,346.69 489.87,428.27 477.2,486.88 C471.28,514.31 456.85,568.69 450.64,562.84 C438.25,543.67 434.3,410.43 424.07,404.67 C415.71,399.97 397.5,532.94 397.5,532.94 Z" fill="#a8995e"/>
<path d="M397.5,561.22 C397.5,561.22 415.62,494.71 424.07,497.08 C434.22,499.94 438.68,566.92 450.64,576.17 C457.28,579.1 470.84,552.92 477.2,538.19 C489.43,509.9 490.76,467.32 503.77,453.25 C509.36,453.25 520.6,471.58 530.34,480.72 C539.2,489.04 547.18,502.2 556.91,503.14 C565.78,504 577.08,481.42 583.48,485.87 C595.67,494.36 597.69,531 610.05,540.11 C616.29,544.72 629.49,521.53 636.61,525.06 C648.09,530.76 652.78,563.9 663.18,566.47 C671.38,568.5 683.32,549.9 689.75,538.19 C701.91,516.07 708.86,464.49 716.32,469.81 C727.46,477.78 728.7,553.5 742.89,576.17 C747.3,579.1 759.28,557.02 769.45,554.76 C777.88,552.88 789.78,569 796.02,564.35 C808.38,555.15 811.16,530.66 822.59,515.16 C829.75,505.46 838.69,495.7 849.16,492.34 C857.29,489.73 871.15,490.8 875.73,498.1 C889.75,520.46 889.03,562.45 902.3,577.08 C907.63,579.1 919.74,556.33 928.86,556.67 C938.34,557.04 949.39,579.1 955.43,579.1 C967.99,568.5 982,511.83 982,511.83" fill="none" stroke="#48ccd0" stroke-width="1.8"/>
<path d="M397.5,547.08 C397.5,547.08 415.68,447.34 424.07,450.88 C434.28,455.19 438.38,555.28 450.64,569.5 C456.98,573.9 471.15,533.55 477.2,512.54 C489.75,469.02 490.26,407.04 503.77,385.13 C508.86,385.13 520.42,412.36 530.34,426.33 C539.02,438.55 546.94,458.52 556.91,459.97 C565.54,461.22 577.85,428.19 583.48,434.06 C596.45,447.6 596.83,500.8 610.05,515.42 C615.43,521.37 630.28,488.13 636.61,492.84 C648.88,501.97 652.5,551 663.18,554.96 C671.1,557.89 683.78,528.82 689.75,512.54 C702.38,478.07 708.96,402.08 716.32,409.97 C727.55,422.02 728.1,534.05 742.89,569.5 C746.7,573.9 758.67,540.98 769.45,537.38 C777.27,534.78 790.85,557.56 796.02,551.78 C809.45,536.77 810.61,502.35 822.59,478 C829.21,464.54 837.85,449.21 849.16,443.76 C856.45,440.24 872.25,444.07 875.73,452.39 C890.85,488.56 888.35,547.81 902.3,570.87 C906.95,573.9 919.83,539.75 928.86,540.26 C938.42,540.81 950.02,573.9 955.43,573.9 C968.61,557.21 982,473 982,473" fill="none" stroke="#42b6e4" stroke-width="1.8"/>
<path d="M397.5,532.94 C397.5,532.94 415.71,399.97 424.07,404.67 C434.3,410.43 438.25,543.67 450.64,562.84 C456.85,568.69 471.28,514.31 477.2,486.88 C489.87,428.27 490.05,346.69 503.77,317 C508.64,317 520.31,353.11 530.34,371.95 C538.91,388.03 546.78,414.83 556.91,416.79 C565.38,418.43 578.26,374.99 583.48,382.25 C596.85,400.86 596.37,470.54 610.05,490.72 C614.96,497.98 630.74,454.8 636.61,460.62 C649.34,473.25 652.36,538.1 663.18,543.44 C670.96,547.29 683.99,507.84 689.75,486.88 C702.59,440.18 708.99,339.66 716.32,350.13 C727.59,366.24 727.83,514.7 742.89,562.84 C746.43,568.69 758.19,525.02 769.45,520.01 C776.78,516.75 791.5,545.95 796.02,539.2 C810.09,518.23 810.34,474.03 822.59,440.83 C828.94,423.62 837.15,402.89 849.16,395.18 C855.74,390.95 872.88,397.61 875.73,406.69 C891.48,456.93 888.03,533.21 902.3,564.65 C906.63,568.69 919.88,523.17 928.86,523.85 C938.48,524.58 950.31,568.69 955.43,568.69 C968.91,545.95 982,434.16 982,434.16" fill="none" stroke="#9478dc" stroke-width="1.8"/>
<path d="M397.5,531.42 C397.5,531.42 415.71,397.7 424.07,402.45 C434.31,408.27 438.22,542.12 450.64,561.62 C456.81,567.68 471.31,513.24 477.2,485.87 C489.91,426.88 490.04,344.79 503.77,314.88 C508.64,314.88 520.31,351.18 530.34,370.13 C538.91,386.32 546.79,413.33 556.91,415.27 C565.39,416.9 578.25,373.03 583.48,380.33 C596.85,399.01 596.36,469.19 610.05,489.51 C614.95,496.8 630.74,453.36 636.61,459.21 C649.34,471.89 652.37,537.09 663.18,542.43 C670.96,546.28 683.98,506.55 689.75,485.47 C702.58,438.61 709,337.79 716.32,348.31 C727.59,364.52 727.84,513.6 742.89,561.83 C746.44,567.68 758.17,523.66 769.45,518.6 C776.77,515.32 791.48,544.74 796.02,537.99 C810.08,517.09 810.43,472.87 822.59,439.62 C829.03,422 837.14,400.38 849.16,392.65 C855.73,388.43 872.84,396.18 875.73,405.48 C891.44,456.03 888.05,532.29 902.3,563.64 C906.65,567.68 919.88,521.75 928.86,522.44 C938.48,523.17 950.3,567.68 955.43,567.68 C968.9,544.93 982,432.65 982,432.65" fill="none" stroke="#d8cc9c" stroke-width="1.0"/>
<line x1="397.5" y1="286.5" x2="397.5" y2="589.5" stroke="#a8a8b2" stroke-width="1"/>
<line x1="392.5" y1="589.5" x2="397.5" y2="589.5" stroke="#a8a8b2" stroke-width="1"/>
<text x="389.5" y="588" font-size="11.2" fill="#e0e0e6" color="#e0e0e6" text-anchor="end" dominant-baseline="central" font-weight="normal" style="font-family:'DejaVu Sans','Liberation Sans',sans-serif" >0</text>
<line x1="392.5" y1="539" x2="397.5" y2="539" stroke="#a8a8b2" stroke-width="1"/>
<text x="389.5" y="537.5" font-size="11.2" fill="#e0e0e6" color="#e0e0e6" text-anchor="end" dominant-baseline="central" font-weight="normal" style="font-family:'DejaVu Sans','Liberation Sans',sans-serif" >500</text>
<line x1="392.5" y1="488.5" x2="397.5" y2="488.5" stroke="#a8a8b2" stroke-width="1"/>
<text x="389.5" y="487" font-size="11.2" fill="#e0e0e6" color="#e0e0e6" text-anchor="end" dominant-baseline="central" font-weight="normal" style="font-family:'DejaVu Sans','Liberation Sans',sans-serif" >1,000</text>
<line x1="392.5" y1="438" x2="397.5" y2="438" stroke="#a8a8b2" stroke-width="1"/>
<text x="389.5" y="436.5" font-size="11.2" fill="#e0e0e6" color="#e0e0e6" text-anchor="end" dominant-baseline="central" font-weight="normal" style="font-family:'DejaVu Sans','Liberation Sans',sans-serif" >1,500</text>
<line x1="392.5" y1="387.5" x2="397.5" y2="387.5" stroke="#a8a8b2" stroke-width="1"/>
<text x="389.5" y="386" font-size="11.2" fill="#e0e0e6" color="#e0e0e6" text-anchor="end" dominant-baseline="central" font-weight="normal" style="font-family:'DejaVu Sans','Liberation Sans',sans-serif" >2,000</text>
<line x1="392.5" y1="337" x2="397.5" y2="337" stroke="#a8a8b2" stroke-width="1"/>
<text x="389.5" y="335.5" font-size="11.2" fill="#e0e0e6" color="#e0e0e6" text-anchor="end" dominant-baseline="central" font-weight="normal" style="font-family:'DejaVu Sans','Liberation Sans',sans-serif" >2,500</text>
<line x1="392.5" y1="286.5" x2="397.5" y2="286.5" stroke="#a8a8b2" stroke-width="1"/>
<text x="389.5" y="285" font-size="11.2" fill="#e0e0e6" color="#e0e0e6" text-anchor="end" dominant-baseline="central" font-weight="normal" style="font-family:'DejaVu Sans','Liberation Sans',sans-serif" >3,000</text>
<line x1="397.5" y1="589.5" x2="982.5" y2="589.5" stroke="#a8a8b2" stroke-width="1"/>
<text x="397.5" y="603.5" font-size="11.2" fill="#e0e0e6" color="#e0e0e6" text-anchor="middle" dominant-baseline="central" font-weight="normal" style="font-family:'DejaVu Sans','Liberation Sans',sans-serif" >100001</text>
<text x="450.64" y="603.5" font-size="11.2" fill="#e0e0e6" color="#e0e0e6" text-anchor="middle" dominant-baseline="central" font-weight="normal" style="font-family:'DejaVu Sans','Liberation Sans',sans-serif" >100003</text>
<text x="503.77" y="603.5" font-size="11.2" fill="#e0e0e6" color="#e0e0e6" text-anchor="middle" dominant-baseline="central" font-weight="normal" style="font-family:'DejaVu Sans','Liberation Sans',sans-serif" >100005</text>
<text x="556.91" y="603.5" font-size="11.2" fill="#e0e0e6" color="#e0e0e6" text-anchor="middle" dominant-baseline="central" font-weight="normal" style="font-family:'DejaVu Sans','Liberation Sans',sans-serif" >100007</text>
<text x="610.05" y="603.5" font-size="11.2" fill="#e0e0e6" color="#e0e0e6" text-anchor="middle" dominant-baseline="central" font-weight="normal" style="font-family:'DejaVu Sans','Liberation Sans',sans-serif" >100009</text>
<text x="663.18" y="603.5" font-size="11.2" fill="#e0e0e6" color="#e0e0e6" text-anchor="middle" dominant-baseline="central" font-weight="normal" style="font-family:'DejaVu Sans','Liberation Sans',sans-serif" >100011</text>
<text x="716.32" y="603.5" font-size="11.2" fill="#e0e0e6" color="#e0e0e6" text-anchor="middle" dominant-baseline="central" font-weight="normal" style="font-family:'DejaVu Sans','Liberation Sans',sans-serif" >100013</text>
<text x="769.45" y="603.5" font-size="11.2" fill="#e0e0e6" color="#e0e0e6" text-anchor="middle" dominant-baseline="central" font-weight="normal" style="font-family:'DejaVu Sans','Liberation Sans',sans-serif" >100015</text>
<text x="822.59" y="603.5" font-size="11.2" fill="#e0e0e6" color="#e0e0e6" text-anchor="middle" dominant-baseline="central" font-weight="normal" style="font-family:'DejaVu Sans','Liberation Sans',sans-serif" >100017</text>
<text x="875.73" y="603.5" font-size="11.2" fill="#e0e0e6" color="#e0e0e6" text-anchor="middle" dominant-baseline="central" font-weight="normal" style="font-family:'DejaVu Sans','Liberation Sans',sans-serif" >100019</text>
<text x="928.86" y="603.5" font-size="11.2" fill="#e0e0e6" color="#e0e0e6" text-anchor="middle" dominant-baseline="central" font-weight="normal" style="font-family:'DejaVu Sans','Liberation Sans',sans-serif" >100021</text>
<text x="982" y="603.5" font-size="11.2" fill="#e0e0e6" color="#e0e0e6" text-anchor="middle" dominant-baseline="central" font-weight="normal" style="font-family:'DejaVu Sans','Liberation Sans',sans-serif" >100023</text>
<circle cx="804" cy="267.5" r="4.4" fill="#3dbcc2" />
<text x="818.7" y="268" font-size="12" fill="#e0e0e6" color="#e0e0e6" text-anchor="start" dominant-baseline="central" font-weight="normal" >收入</text>
<circle cx="857" cy="267.5" r="4.4" fill="#3ba7dc" />
<text x="871.7" y="268" font-size="12" fill="#e0e0e6" color="#e0e0e6" text-anchor="start" dominant-baseline="central" font-weight="normal" >成本</text>
<circle cx="909.7" cy="267.5" r="4.4" fill="#8a6cd4" />
<text x="924.4" y="268" font-size="12" fill="#e0e0e6" color="#e0e0e6" text-anchor="start" dominant-baseline="central" font-weight="normal" >毛利</text>
<circle cx="963" cy="267.5" r="4.4" fill="#d8bd5c" />
<text x="977.7" y="268" font-size="12" fill="#e0e0e6" color="#e0e0e6" text-anchor="start" dominant-baseline="central" font-weight="normal" >数量</text>
<text x="1121.3" y="297.8" font-size="12" fill="#e0c860" color="#e0c860" text-anchor="middle" dominant-baseline="central" font-weight="normal" >50.00 %</text>
<rect x="1110.7" y="316.9" width="21.2" height="2" fill="#e4944a" />
<rect x="1110.7" y="316.9" width="21.2" height="0.6" fill="#eab070" />
<rect x="1108" y="319.1" width="26.6" height="2" fill="#e4944a" />
<rect x="1108" y="319.1" width="26.6" height="0.6" fill="#eab070" />
<rect x="1105.3" y="321.4" width="32" height="2" fill="#e4944a" />
<rect x="1105.3" y="321.4" width="32" height="0.6" fill="#eab070" />
<rect x="1102.6" y="323.6" width="37.4" height="2" fill="#e4944a" />
<rect x="1102.6" y="323.6" width="37.4" height="0.6" fill="#eab070" />
<rect x="1093.3" y="326.8" width="56" height="13" fill="#dcb47a" />
<rect x="1095.5" y="329" width="51.6" height="4.8" fill="#7c6a50" />
<rect x="1095.5" y="333.8" width="51.6" height="4.8" fill="#e2bc4c" />
<rect x="1095.7" y="329" width="1.3" height="9.6" fill="#5a3c14" />
<rect x="1145.6" y="329" width="1.3" height="9.6" fill="#5a3c14" />
<text x="1121.3" y="354.3" font-size="12" fill="#e0e0e6" color="#e0e0e6" text-anchor="middle" dominant-baseline="central" font-weight="normal" >南康店</text>
<text x="1188.4" y="297.8" font-size="12" fill="#e0c860" color="#e0c860" text-anchor="middle" dominant-baseline="central" font-weight="normal" >40.00 %</text>
<rect x="1177.8" y="316.9" width="21.2" height="2" fill="#e4944a" />
<rect x="1177.8" y="316.9" width="21.2" height="0.6" fill="#eab070" />
<rect x="1175.1" y="319.1" width="26.6" height="2" fill="#e4944a" />
<rect x="1175.1" y="319.1" width="26.6" height="0.6" fill="#eab070" />
<rect x="1172.4" y="321.4" width="32" height="2" fill="#e4944a" />
<rect x="1172.4" y="321.4" width="32" height="0.6" fill="#eab070" />
<rect x="1169.7" y="323.6" width="37.4" height="2" fill="#e4944a" />
<rect x="1169.7" y="323.6" width="37.4" height="0.6" fill="#eab070" />
<rect x="1160.4" y="326.8" width="56" height="13" fill="#dcb47a" />
<rect x="1162.6" y="329" width="51.6" height="4.8" fill="#7c6a50" />
<rect x="1162.6" y="333.8" width="51.6" height="4.8" fill="#e2bc4c" />
<rect x="1162.8" y="329" width="1.3" height="9.6" fill="#5a3c14" />
<rect x="1212.7" y="329" width="1.3" height="9.6" fill="#5a3c14" />
<text x="1188.4" y="354.3" font-size="12" fill="#e0e0e6" color="#e0e0e6" text-anchor="middle" dominant-baseline="central" font-weight="normal" >山北店</text>
<text x="1255.9" y="297.8" font-size="12" fill="#e0c860" color="#e0c860" text-anchor="middle" dominant-baseline="central" font-weight="normal" >90.00 %</text>
<rect x="1245.3" y="316.9" width="21.2" height="2" fill="#e4944a" />
<rect x="1245.3" y="316.9" width="21.2" height="0.6" fill="#eab070" />
<rect x="1242.6" y="319.1" width="26.6" height="2" fill="#e4944a" />
<rect x="1242.6" y="319.1" width="26.6" height="0.6" fill="#eab070" />
<rect x="1239.9" y="321.4" width="32" height="2" fill="#e4944a" />
<rect x="1239.9" y="321.4" width="32" height="0.6" fill="#eab070" />
<rect x="1237.2" y="323.6" width="37.4" height="2" fill="#e4944a" />
<rect x="1237.2" y="323.6" width="37.4" height="0.6" fill="#eab070" />
<rect x="1227.9" y="326.8" width="56" height="13" fill="#dcb47a" />
<rect x="1230.1" y="329" width="51.6" height="4.8" fill="#e2bc4c" />
<rect x="1230.1" y="333.8" width="51.6" height="4.8" fill="#e2bc4c" />
<rect x="1230.1" y="332.8" width="51.6" height="0.9" fill="#6a5020" />
<rect x="1230.3" y="329" width="1.3" height="9.6" fill="#5a3c14" />
<rect x="1280.2" y="329" width="1.3" height="9.6" fill="#5a3c14" />
<text x="1255.9" y="354.3" font-size="12" fill="#e0e0e6" color="#e0e0e6" text-anchor="middle" dominant-baseline="central" font-weight="normal" >平洋店</text>
<line x1="53.5" y1="589.5" x2="58.5" y2="589.5" stroke="#a8a8b2" stroke-width="1"/>
<text x="50.5" y="588" font-size="11.2" fill="#e0e0e6" color="#e0e0e6" text-anchor="end" dominant-baseline="central" font-weight="normal" style="font-family:'DejaVu Sans','Liberation Sans',sans-serif" >0</text>
<line x1="53.5" y1="566.3" x2="58.5" y2="566.3" stroke="#a8a8b2" stroke-width="1"/>
<text x="50.5" y="564.8" font-size="11.2" fill="#e0e0e6" color="#e0e0e6" text-anchor="end" dominant-baseline="central" font-weight="normal" style="font-family:'DejaVu Sans','Liberation Sans',sans-serif" >1,000</text>
<line x1="53.5" y1="543.1" x2="58.5" y2="543.1" stroke="#a8a8b2" stroke-width="1"/>
<text x="50.5" y="541.6" font-size="11.2" fill="#e0e0e6" color="#e0e0e6" text-anchor="end" dominant-baseline="central" font-weight="normal" style="font-family:'DejaVu Sans','Liberation Sans',sans-serif" >2,000</text>
<line x1="53.5" y1="519.9" x2="58.5" y2="519.9" stroke="#a8a8b2" stroke-width="1"/>
<text x="50.5" y="518.4" font-size="11.2" fill="#e0e0e6" color="#e0e0e6" text-anchor="end" dominant-baseline="central" font-weight="normal" style="font-family:'DejaVu Sans','Liberation Sans',sans-serif" >3,000</text>
<line x1="53.5" y1="496.7" x2="58.5" y2="496.7" stroke="#a8a8b2" stroke-width="1"/>
<text x="50.5" y="495.2" font-size="11.2" fill="#e0e0e6" color="#e0e0e6" text-anchor="end" dominant-baseline="central" font-weight="normal" style="font-family:'DejaVu Sans','Liberation Sans',sans-serif" >4,000</text>
<line x1="53.5" y1="473.5" x2="58.5" y2="473.5" stroke="#a8a8b2" stroke-width="1"/>
<text x="50.5" y="472" font-size="11.2" fill="#e0e0e6" color="#e0e0e6" text-anchor="end" dominant-baseline="central" font-weight="normal" style="font-family:'DejaVu Sans','Liberation Sans',sans-serif" >5,000</text>
<line x1="58.5" y1="473.5" x2="58.5" y2="589.5" stroke="#a8a8b2" stroke-width="1"/>
<line x1="58.5" y1="589.5" x2="305.7" y2="589.5" stroke="#a8a8b2" stroke-width="1"/>
<text x="58.5" y="604.2" font-size="12" fill="#e0e0e6" color="#e0e0e6" text-anchor="middle" dominant-baseline="central" font-weight="normal" >上海</text>
<text x="140.9" y="604.2" font-size="12" fill="#e0e0e6" color="#e0e0e6" text-anchor="middle" dominant-baseline="central" font-weight="normal" >山西</text>
<text x="223.3" y="604.2" font-size="12" fill="#e0e0e6" color="#e0e0e6" text-anchor="middle" dominant-baseline="central" font-weight="normal" >广州</text>
<text x="305.7" y="604.2" font-size="12" fill="#e0e0e6" color="#e0e0e6" text-anchor="middle" dominant-baseline="central" font-weight="normal" >深圳</text>
<path d="M58.5,566.3 C58.5,566.3 111.05,540.17 140.9,534.28 C168.73,533.82 195.38,533.82 223.3,533.82 C253.06,539.22 305.7,564.21 305.7,564.21" fill="none" stroke="#3dbcc2" stroke-width="2.3"/>
<circle cx="58.5" cy="566.3" r="3.6" fill="#3dbcc2" />
<circle cx="140.9" cy="534.28" r="3.6" fill="#3dbcc2" />
<circle cx="223.3" cy="533.82" r="3.6" fill="#3dbcc2" />
<circle cx="305.7" cy="564.21" r="3.6" fill="#3dbcc2" />
<path d="M58.5,543.1 C58.5,543.1 108.69,492.09 140.9,479.3 C166.37,477.68 197.6,477.68 223.3,477.68 C255.28,489.2 305.7,538.69 305.7,538.69" fill="none" stroke="#3ba7dc" stroke-width="2.3"/>
<circle cx="58.5" cy="543.1" r="3.6" fill="#3ba7dc" />
<circle cx="140.9" cy="479.3" r="3.6" fill="#3ba7dc" />
<circle cx="223.3" cy="477.68" r="3.6" fill="#3ba7dc" />
<circle cx="305.7" cy="538.69" r="3.6" fill="#3ba7dc" />
<path d="M58.5,566.3 C58.5,566.3 111.05,540.17 140.9,534.28 C168.73,533.82 195.38,533.82 223.3,533.82 C253.06,539.22 305.7,564.21 305.7,564.21" fill="none" stroke="#8a6cd4" stroke-width="2.3"/>
<circle cx="58.5" cy="566.3" r="3.6" fill="#8a6cd4" />
<circle cx="140.9" cy="534.28" r="3.6" fill="#8a6cd4" />
<circle cx="223.3" cy="533.82" r="3.6" fill="#8a6cd4" />
<circle cx="305.7" cy="564.21" r="3.6" fill="#8a6cd4" />
<circle cx="179.1" cy="456.9" r="4.4" fill="#3dbcc2" />
<text x="193.8" y="457.4" font-size="12" fill="#e0e0e6" color="#e0e0e6" text-anchor="start" dominant-baseline="central" font-weight="normal" >成本</text>
<circle cx="232" cy="456.9" r="4.4" fill="#3ba7dc" />
<text x="246.7" y="457.4" font-size="12" fill="#e0e0e6" color="#e0e0e6" text-anchor="start" dominant-baseline="central" font-weight="normal" >收入</text>
<circle cx="284.8" cy="456.9" r="4.4" fill="#8a6cd4" />
<text x="299.5" y="457.4" font-size="12" fill="#e0e0e6" color="#e0e0e6" text-anchor="start" dominant-baseline="central" font-weight="normal" >毛利</text>
<line x1="1070.5" y1="589.5" x2="1075.5" y2="589.5" stroke="#a8a8b2" stroke-width="1"/>
<text x="1067.5" y="588" font-size="11.2" fill="#e0e0e6" color="#e0e0e6" text-anchor="end" dominant-baseline="central" font-weight="normal" style="font-family:'DejaVu Sans','Liberation Sans',sans-serif" >0</text>
<line x1="1070.5" y1="566.3" x2="1075.5" y2="566.3" stroke="#a8a8b2" stroke-width="1"/>
<text x="1067.5" y="564.8" font-size="11.2" fill="#e0e0e6" color="#e0e0e6" text-anchor="end" dominant-baseline="central" font-weight="normal" style="font-family:'DejaVu Sans','Liberation Sans',sans-serif" >1,000</text>
<line x1="1070.5" y1="543.1" x2="1075.5" y2="543.1" stroke="#a8a8b2" stroke-width="1"/>
<text x="1067.5" y="541.6" font-size="11.2" fill="#e0e0e6" color="#e0e0e6" text-anchor="end" dominant-baseline="central" font-weight="normal" style="font-family:'DejaVu Sans','Liberation Sans',sans-serif" >2,000</text>
<line x1="1070.5" y1="519.9" x2="1075.5" y2="519.9" stroke="#a8a8b2" stroke-width="1"/>
<text x="1067.5" y="518.4" font-size="11.2" fill="#e0e0e6" color="#e0e0e6" text-anchor="end" dominant-baseline="central" font-weight="normal" style="font-family:'DejaVu Sans','Liberation Sans',sans-serif" >3,000</text>
<line x1="1070.5" y1="496.7" x2="1075.5" y2="496.7" stroke="#a8a8b2" stroke-width="1"/>
<text x="1067.5" y="495.2" font-size="11.2" fill="#e0e0e6" color="#e0e0e6" text-anchor="end" dominant-baseline="central" font-weight="normal" style="font-family:'DejaVu Sans','Liberation Sans',sans-serif" >4,000</text>
<line x1="1070.5" y1="473.5" x2="1075.5" y2="473.5" stroke="#a8a8b2" stroke-width="1"/>
<text x="1067.5" y="472" font-size="11.2" fill="#e0e0e6" color="#e0e0e6" text-anchor="end" dominant-baseline="central" font-weight="normal" style="font-family:'DejaVu Sans','Liberation Sans',sans-serif" >5,000</text>
<line x1="1075.5" y1="473.5" x2="1075.5" y2="589.5" stroke="#a8a8b2" stroke-width="1"/>
<line x1="1075.5" y1="589.5" x2="1322.7" y2="589.5" stroke="#a8a8b2" stroke-width="1"/>
<text x="1075.5" y="604.2" font-size="12" fill="#e0e0e6" color="#e0e0e6" text-anchor="middle" dominant-baseline="central" font-weight="normal" >上海</text>
<text x="1157.9" y="604.2" font-size="12" fill="#e0e0e6" color="#e0e0e6" text-anchor="middle" dominant-baseline="central" font-weight="normal" >山西</text>
<text x="1240.3" y="604.2" font-size="12" fill="#e0e0e6" color="#e0e0e6" text-anchor="middle" dominant-baseline="central" font-weight="normal" >广州</text>
<text x="1322.7" y="604.2" font-size="12" fill="#e0e0e6" color="#e0e0e6" text-anchor="middle" dominant-baseline="central" font-weight="normal" >深圳</text>
<path d="M1075.5,566.3 C1075.5,566.3 1128.05,540.17 1157.9,534.28 C1185.73,533.82 1212.38,533.82 1240.3,533.82 C1270.06,539.22 1322.7,564.21 1322.7,564.21" fill="none" stroke="#3dbcc2" stroke-width="2.3"/>
<circle cx="1075.5" cy="566.3" r="3.6" fill="#3dbcc2" />
<circle cx="1157.9" cy="534.28" r="3.6" fill="#3dbcc2" />
<circle cx="1240.3" cy="533.82" r="3.6" fill="#3dbcc2" />
<circle cx="1322.7" cy="564.21" r="3.6" fill="#3dbcc2" />
<path d="M1075.5,543.1 C1075.5,543.1 1125.69,492.09 1157.9,479.3 C1183.37,477.68 1214.6,477.68 1240.3,477.68 C1272.28,489.2 1322.7,538.69 1322.7,538.69" fill="none" stroke="#3ba7dc" stroke-width="2.3"/>
<circle cx="1075.5" cy="543.1" r="3.6" fill="#3ba7dc" />
<circle cx="1157.9" cy="479.3" r="3.6" fill="#3ba7dc" />
<circle cx="1240.3" cy="477.68" r="3.6" fill="#3ba7dc" />
<circle cx="1322.7" cy="538.69" r="3.6" fill="#3ba7dc" />
<path d="M1075.5,566.3 C1075.5,566.3 1128.05,540.17 1157.9,534.28 C1185.73,533.82 1212.38,533.82 1240.3,533.82 C1270.06,539.22 1322.7,564.21 1322.7,564.21" fill="none" stroke="#8a6cd4" stroke-width="2.3"/>
<circle cx="1075.5" cy="566.3" r="3.6" fill="#8a6cd4" />
<circle cx="1157.9" cy="534.28" r="3.6" fill="#8a6cd4" />
<circle cx="1240.3" cy="533.82" r="3.6" fill="#8a6cd4" />
<circle cx="1322.7" cy="564.21" r="3.6" fill="#8a6cd4" />
<circle cx="1196.1" cy="456.9" r="4.4" fill="#3dbcc2" />
<text x="1210.8" y="457.4" font-size="12" fill="#e0e0e6" color="#e0e0e6" text-anchor="start" dominant-baseline="central" font-weight="normal" >成本</text>
<circle cx="1249" cy="456.9" r="4.4" fill="#3ba7dc" />
<text x="1263.7" y="457.4" font-size="12" fill="#e0e0e6" color="#e0e0e6" text-anchor="start" dominant-baseline="central" font-weight="normal" >收入</text>
<circle cx="1301.8" cy="456.9" r="4.4" fill="#8a6cd4" />
<text x="1316.5" y="457.4" font-size="12" fill="#e0e0e6" color="#e0e0e6" text-anchor="start" dominant-baseline="central" font-weight="normal" >毛利</text>
</svg>
<div style="position:absolute;left:1338px;top:3px;width:25px;height:3px;background:#1a90e8"></div>
<div style="position:absolute;left:1360px;top:285px;width:3px;height:25px;background:#1a90e8"></div>
</body></html>
